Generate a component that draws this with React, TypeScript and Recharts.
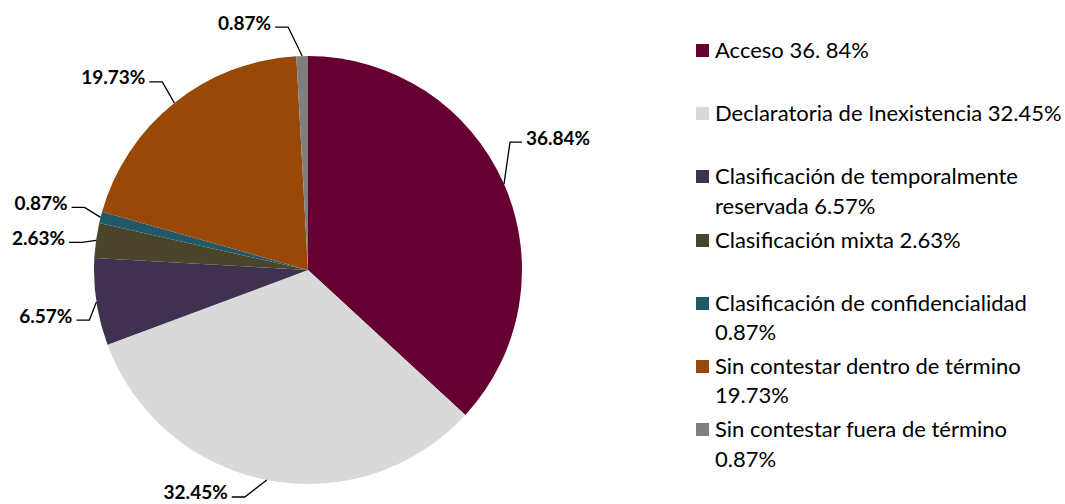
import { PieChart, Pie, Cell, Legend } from "recharts";

const categories = [
  "Acceso",
  "Declaratoria de Inexistencia",
  "Clasificación de temporalmente reservada",
  "Clasificación mixta",
  "Clasificación de confidencialidad",
  "Sin contestar dentro de término",
  "Sin contestar fuera de término",
];
const values = [36.84, 32.45, 6.57, 2.63, 0.87, 19.73, 0.87];
const sliceLabels = ["36.84%", "32.45%", "6.57%", "2.63%", "0.87%", "19.73%", "0.87%"];
const legendLines = [
  ["Acceso 36. 84%"],
  ["Declaratoria de Inexistencia 32.45%"],
  ["Clasificación de temporalmente", "reservada 6.57%"],
  ["Clasificación mixta 2.63%"],
  ["Clasificación de confidencialidad", "0.87%"],
  ["Sin contestar dentro de término", "19.73%"],
  ["Sin contestar fuera de término", "0.87%"],
];
const colors = ["#660033", "#D9D9D9", "#403151", "#4A442A", "#215968", "#984807", "#7F7F7F"];

// where each leader line bends, relative to the slice edge
const elbows = [
  [6, -42],
  [-22, 17],
  [-7, 18],
  [-14, 2],
  [-16, -10],
  [-12, -21],
  [-14, -29],
];

const data = categories.map((name, i) => ({ name, value: values[i] }));

const RADIAN = Math.PI / 180;

const renderLabel = (props: any) => {
  const { cx, cy, midAngle, outerRadius, index } = props;
  const sx = cx + outerRadius * Math.cos(-midAngle * RADIAN);
  const sy = cy + outerRadius * Math.sin(-midAngle * RADIAN);
  const [dx, dy] = elbows[index];
  const ex = sx + dx;
  const ey = sy + dy;
  const right = ex > cx;
  const hx = ex + (right ? 12 : -13);
  return (
    <g key={`lbl-${index}`}>
      <path d={`M${sx},${sy}L${ex},${ey}L${hx},${ey}`} stroke="#000" strokeWidth={1.3} fill="none" />
      <text
        x={hx + (right ? 4 : -4)}
        y={ey - 5}
        textAnchor={right ? "start" : "end"}
        dominantBaseline="central"
        fontFamily="Lato, sans-serif"
        fontWeight={700}
        fontSize={19}
        fill="#000"
      >
        {sliceLabels[index]}
      </text>
    </g>
  );
};

const renderLegend = (props: any) => {
  const { payload } = props;
  return (
    <div style={{ fontFamily: "Lato, sans-serif", fontSize: 22, color: "#000", textAlign: "left" }}>
      {(payload || []).map((entry: any, i: number) => (
        <div key={i} style={{ height: 63.2, display: "flex", alignItems: "flex-start" }}>
          <div
            style={{
              width: 13,
              height: 13,
              background: colors[i],
              marginTop: 9,
              marginRight: 6,
              flexShrink: 0,
            }}
          />
          <div style={{ lineHeight: "29.5px", whiteSpace: "nowrap" }}>
            {legendLines[i].map((l, j) => (
              <div key={j}>{l}</div>
            ))}
          </div>
        </div>
      ))}
    </div>
  );
};

export default function App() {
  return (
    <div style={{ position: "absolute", left: 0, top: 0, background: "#fff" }}>
      <PieChart width={1065} height={504} margin={{ top: 0, right: 0, bottom: 0, left: 0 }}>
        <Pie
          data={data}
          dataKey="value"
          nameKey="name"
          cx={308}
          cy={270}
          outerRadius={214}
          startAngle={90}
          endAngle={-270}
          stroke="none"
          label={renderLabel}
          labelLine={false}
          isAnimationActive={false}
        >
          {data.map((_, i) => (
            <Cell key={i} fill={colors[i]} />
          ))}
        </Pie>
        <Legend
          layout="vertical"
          align="right"
          verticalAlign="top"
          content={renderLegend}
          wrapperStyle={{ left: 696, top: 35, width: 369 }}
        />
      </PieChart>
    </div>
  );
}
